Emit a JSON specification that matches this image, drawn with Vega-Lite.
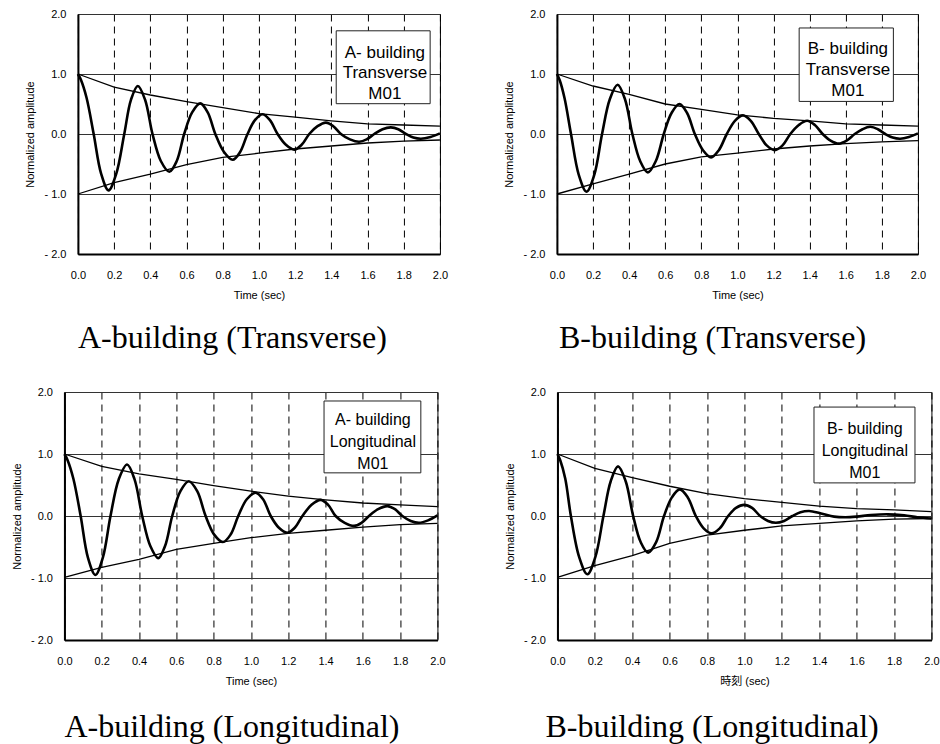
{
"$schema": "https://vega.github.io/schema/vega-lite/v6.json",
"padding": {"left": 10, "top": 7, "right": 0, "bottom": 0},
"datasets": {
"curves": [
{"p":"AT","s":"o","t":0,"v":1.0},{"p":"AT","s":"o","t":0.017,"v":0.9},{"p":"AT","s":"o","t":0.048,"v":0.6},{"p":"AT","s":"o","t":0.087,"v":0.0},{"p":"AT","s":"o","t":0.128,"v":-0.66},{"p":"AT","s":"o","t":0.169,"v":-0.94},{"p":"AT","s":"o","t":0.212,"v":-0.66},{"p":"AT","s":"o","t":0.256,"v":0.0},{"p":"AT","s":"o","t":0.293,"v":0.57},{"p":"AT","s":"o","t":0.331,"v":0.8},{"p":"AT","s":"o","t":0.371,"v":0.57},{"p":"AT","s":"o","t":0.412,"v":0.0},{"p":"AT","s":"o","t":0.458,"v":-0.45},{"p":"AT","s":"o","t":0.505,"v":-0.63},{"p":"AT","s":"o","t":0.546,"v":-0.45},{"p":"AT","s":"o","t":0.587,"v":0.0},{"p":"AT","s":"o","t":0.631,"v":0.36},{"p":"AT","s":"o","t":0.676,"v":0.51},{"p":"AT","s":"o","t":0.717,"v":0.36},{"p":"AT","s":"o","t":0.759,"v":0.0},{"p":"AT","s":"o","t":0.807,"v":-0.3},{"p":"AT","s":"o","t":0.855,"v":-0.43},{"p":"AT","s":"o","t":0.896,"v":-0.3},{"p":"AT","s":"o","t":0.937,"v":0.0},{"p":"AT","s":"o","t":0.978,"v":0.23},{"p":"AT","s":"o","t":1.02,"v":0.33},{"p":"AT","s":"o","t":1.061,"v":0.23},{"p":"AT","s":"o","t":1.103,"v":0.0},{"p":"AT","s":"o","t":1.149,"v":-0.18},{"p":"AT","s":"o","t":1.195,"v":-0.26},{"p":"AT","s":"o","t":1.236,"v":-0.18},{"p":"AT","s":"o","t":1.278,"v":0.0},{"p":"AT","s":"o","t":1.324,"v":0.13},{"p":"AT","s":"o","t":1.37,"v":0.19},{"p":"AT","s":"o","t":1.411,"v":0.13},{"p":"AT","s":"o","t":1.453,"v":0.0},{"p":"AT","s":"o","t":1.503,"v":-0.09},{"p":"AT","s":"o","t":1.554,"v":-0.13},{"p":"AT","s":"o","t":1.595,"v":-0.09},{"p":"AT","s":"o","t":1.637,"v":0.0},{"p":"AT","s":"o","t":1.683,"v":0.08},{"p":"AT","s":"o","t":1.729,"v":0.11},{"p":"AT","s":"o","t":1.77,"v":0.08},{"p":"AT","s":"o","t":1.812,"v":0.0},{"p":"AT","s":"o","t":1.853,"v":-0.06},{"p":"AT","s":"o","t":1.895,"v":-0.08},{"p":"AT","s":"o","t":1.948,"v":-0.05},{"p":"AT","s":"o","t":2.0,"v":0.01},
{"p":"AT","s":"u","t":0,"v":1.0},{"p":"AT","s":"u","t":0.2,"v":0.78},{"p":"AT","s":"u","t":0.4,"v":0.65},{"p":"AT","s":"u","t":0.6,"v":0.54},{"p":"AT","s":"u","t":0.8,"v":0.44},{"p":"AT","s":"u","t":1.0,"v":0.34},{"p":"AT","s":"u","t":1.2,"v":0.28},{"p":"AT","s":"u","t":1.4,"v":0.22},{"p":"AT","s":"u","t":1.6,"v":0.17},{"p":"AT","s":"u","t":1.8,"v":0.15},{"p":"AT","s":"u","t":2.0,"v":0.13},
{"p":"AT","s":"l","t":0,"v":-1.0},{"p":"AT","s":"l","t":0.2,"v":-0.81},{"p":"AT","s":"l","t":0.4,"v":-0.67},{"p":"AT","s":"l","t":0.6,"v":-0.51},{"p":"AT","s":"l","t":0.8,"v":-0.39},{"p":"AT","s":"l","t":1.0,"v":-0.32},{"p":"AT","s":"l","t":1.2,"v":-0.25},{"p":"AT","s":"l","t":1.4,"v":-0.2},{"p":"AT","s":"l","t":1.6,"v":-0.15},{"p":"AT","s":"l","t":1.8,"v":-0.12},{"p":"AT","s":"l","t":2.0,"v":-0.1},
{"p":"BT","s":"o","t":0,"v":1.0},{"p":"BT","s":"o","t":0.015,"v":0.9},{"p":"BT","s":"o","t":0.042,"v":0.6},{"p":"BT","s":"o","t":0.078,"v":0.0},{"p":"BT","s":"o","t":0.121,"v":-0.68},{"p":"BT","s":"o","t":0.164,"v":-0.96},{"p":"BT","s":"o","t":0.207,"v":-0.68},{"p":"BT","s":"o","t":0.25,"v":0.0},{"p":"BT","s":"o","t":0.293,"v":0.58},{"p":"BT","s":"o","t":0.336,"v":0.82},{"p":"BT","s":"o","t":0.377,"v":0.58},{"p":"BT","s":"o","t":0.418,"v":0.0},{"p":"BT","s":"o","t":0.461,"v":-0.45},{"p":"BT","s":"o","t":0.504,"v":-0.64},{"p":"BT","s":"o","t":0.548,"v":-0.45},{"p":"BT","s":"o","t":0.592,"v":0.0},{"p":"BT","s":"o","t":0.635,"v":0.35},{"p":"BT","s":"o","t":0.679,"v":0.5},{"p":"BT","s":"o","t":0.721,"v":0.35},{"p":"BT","s":"o","t":0.764,"v":0.0},{"p":"BT","s":"o","t":0.809,"v":-0.27},{"p":"BT","s":"o","t":0.854,"v":-0.39},{"p":"BT","s":"o","t":0.897,"v":-0.27},{"p":"BT","s":"o","t":0.941,"v":0.0},{"p":"BT","s":"o","t":0.986,"v":0.22},{"p":"BT","s":"o","t":1.031,"v":0.31},{"p":"BT","s":"o","t":1.074,"v":0.22},{"p":"BT","s":"o","t":1.118,"v":0.0},{"p":"BT","s":"o","t":1.162,"v":-0.19},{"p":"BT","s":"o","t":1.207,"v":-0.27},{"p":"BT","s":"o","t":1.25,"v":-0.19},{"p":"BT","s":"o","t":1.293,"v":0.0},{"p":"BT","s":"o","t":1.34,"v":0.15},{"p":"BT","s":"o","t":1.386,"v":0.22},{"p":"BT","s":"o","t":1.429,"v":0.15},{"p":"BT","s":"o","t":1.472,"v":0.0},{"p":"BT","s":"o","t":1.516,"v":-0.11},{"p":"BT","s":"o","t":1.561,"v":-0.16},{"p":"BT","s":"o","t":1.605,"v":-0.11},{"p":"BT","s":"o","t":1.65,"v":0.0},{"p":"BT","s":"o","t":1.693,"v":0.08},{"p":"BT","s":"o","t":1.736,"v":0.12},{"p":"BT","s":"o","t":1.778,"v":0.08},{"p":"BT","s":"o","t":1.819,"v":0.0},{"p":"BT","s":"o","t":1.86,"v":-0.06},{"p":"BT","s":"o","t":1.902,"v":-0.08},{"p":"BT","s":"o","t":1.95,"v":-0.05},{"p":"BT","s":"o","t":2.0,"v":0.01},
{"p":"BT","s":"u","t":0,"v":1.0},{"p":"BT","s":"u","t":0.2,"v":0.8},{"p":"BT","s":"u","t":0.4,"v":0.66},{"p":"BT","s":"u","t":0.6,"v":0.5},{"p":"BT","s":"u","t":0.8,"v":0.41},{"p":"BT","s":"u","t":1.0,"v":0.32},{"p":"BT","s":"u","t":1.2,"v":0.26},{"p":"BT","s":"u","t":1.4,"v":0.22},{"p":"BT","s":"u","t":1.6,"v":0.17},{"p":"BT","s":"u","t":1.8,"v":0.15},{"p":"BT","s":"u","t":2.0,"v":0.13},
{"p":"BT","s":"l","t":0,"v":-1.0},{"p":"BT","s":"l","t":0.2,"v":-0.83},{"p":"BT","s":"l","t":0.4,"v":-0.67},{"p":"BT","s":"l","t":0.6,"v":-0.5},{"p":"BT","s":"l","t":0.8,"v":-0.38},{"p":"BT","s":"l","t":1.0,"v":-0.32},{"p":"BT","s":"l","t":1.2,"v":-0.25},{"p":"BT","s":"l","t":1.4,"v":-0.2},{"p":"BT","s":"l","t":1.6,"v":-0.16},{"p":"BT","s":"l","t":1.8,"v":-0.13},{"p":"BT","s":"l","t":2.0,"v":-0.11},
{"p":"AL","s":"o","t":0,"v":1.0},{"p":"AL","s":"o","t":0.017,"v":0.9},{"p":"AL","s":"o","t":0.048,"v":0.6},{"p":"AL","s":"o","t":0.087,"v":0.0},{"p":"AL","s":"o","t":0.126,"v":-0.67},{"p":"AL","s":"o","t":0.166,"v":-0.95},{"p":"AL","s":"o","t":0.206,"v":-0.67},{"p":"AL","s":"o","t":0.247,"v":0.0},{"p":"AL","s":"o","t":0.291,"v":0.59},{"p":"AL","s":"o","t":0.336,"v":0.83},{"p":"AL","s":"o","t":0.376,"v":0.59},{"p":"AL","s":"o","t":0.417,"v":0.0},{"p":"AL","s":"o","t":0.46,"v":-0.48},{"p":"AL","s":"o","t":0.503,"v":-0.68},{"p":"AL","s":"o","t":0.54,"v":-0.48},{"p":"AL","s":"o","t":0.578,"v":0.0},{"p":"AL","s":"o","t":0.622,"v":0.4},{"p":"AL","s":"o","t":0.667,"v":0.56},{"p":"AL","s":"o","t":0.712,"v":0.4},{"p":"AL","s":"o","t":0.757,"v":0.0},{"p":"AL","s":"o","t":0.803,"v":-0.3},{"p":"AL","s":"o","t":0.85,"v":-0.42},{"p":"AL","s":"o","t":0.891,"v":-0.3},{"p":"AL","s":"o","t":0.932,"v":0.0},{"p":"AL","s":"o","t":0.978,"v":0.27},{"p":"AL","s":"o","t":1.025,"v":0.375},{"p":"AL","s":"o","t":1.065,"v":0.27},{"p":"AL","s":"o","t":1.106,"v":0.0},{"p":"AL","s":"o","t":1.15,"v":-0.19},{"p":"AL","s":"o","t":1.195,"v":-0.27},{"p":"AL","s":"o","t":1.235,"v":-0.19},{"p":"AL","s":"o","t":1.276,"v":0.0},{"p":"AL","s":"o","t":1.325,"v":0.18},{"p":"AL","s":"o","t":1.374,"v":0.26},{"p":"AL","s":"o","t":1.414,"v":0.18},{"p":"AL","s":"o","t":1.454,"v":0.0},{"p":"AL","s":"o","t":1.503,"v":-0.11},{"p":"AL","s":"o","t":1.553,"v":-0.16},{"p":"AL","s":"o","t":1.593,"v":-0.11},{"p":"AL","s":"o","t":1.633,"v":0.0},{"p":"AL","s":"o","t":1.682,"v":0.11},{"p":"AL","s":"o","t":1.732,"v":0.16},{"p":"AL","s":"o","t":1.772,"v":0.11},{"p":"AL","s":"o","t":1.812,"v":0.0},{"p":"AL","s":"o","t":1.857,"v":-0.08},{"p":"AL","s":"o","t":1.902,"v":-0.11},{"p":"AL","s":"o","t":1.95,"v":-0.07},{"p":"AL","s":"o","t":2.0,"v":0.01},
{"p":"AL","s":"u","t":0,"v":1.0},{"p":"AL","s":"u","t":0.2,"v":0.8},{"p":"AL","s":"u","t":0.4,"v":0.68},{"p":"AL","s":"u","t":0.6,"v":0.59},{"p":"AL","s":"u","t":0.8,"v":0.49},{"p":"AL","s":"u","t":1.0,"v":0.4},{"p":"AL","s":"u","t":1.2,"v":0.32},{"p":"AL","s":"u","t":1.4,"v":0.26},{"p":"AL","s":"u","t":1.6,"v":0.21},{"p":"AL","s":"u","t":1.8,"v":0.18},{"p":"AL","s":"u","t":2.0,"v":0.15},
{"p":"AL","s":"l","t":0,"v":-0.99},{"p":"AL","s":"l","t":0.2,"v":-0.83},{"p":"AL","s":"l","t":0.4,"v":-0.7},{"p":"AL","s":"l","t":0.6,"v":-0.54},{"p":"AL","s":"l","t":0.8,"v":-0.44},{"p":"AL","s":"l","t":1.0,"v":-0.35},{"p":"AL","s":"l","t":1.2,"v":-0.28},{"p":"AL","s":"l","t":1.4,"v":-0.23},{"p":"AL","s":"l","t":1.6,"v":-0.18},{"p":"AL","s":"l","t":1.8,"v":-0.14},{"p":"AL","s":"l","t":2.0,"v":-0.12},
{"p":"BL","s":"o","t":0,"v":1.0},{"p":"BL","s":"o","t":0.015,"v":0.9},{"p":"BL","s":"o","t":0.042,"v":0.6},{"p":"BL","s":"o","t":0.072,"v":0.0},{"p":"BL","s":"o","t":0.116,"v":-0.66},{"p":"BL","s":"o","t":0.16,"v":-0.94},{"p":"BL","s":"o","t":0.203,"v":-0.66},{"p":"BL","s":"o","t":0.246,"v":0.0},{"p":"BL","s":"o","t":0.285,"v":0.56},{"p":"BL","s":"o","t":0.324,"v":0.8},{"p":"BL","s":"o","t":0.365,"v":0.56},{"p":"BL","s":"o","t":0.405,"v":0.0},{"p":"BL","s":"o","t":0.445,"v":-0.42},{"p":"BL","s":"o","t":0.485,"v":-0.59},{"p":"BL","s":"o","t":0.528,"v":-0.42},{"p":"BL","s":"o","t":0.57,"v":0.0},{"p":"BL","s":"o","t":0.612,"v":0.3},{"p":"BL","s":"o","t":0.654,"v":0.43},{"p":"BL","s":"o","t":0.697,"v":0.3},{"p":"BL","s":"o","t":0.74,"v":0.0},{"p":"BL","s":"o","t":0.782,"v":-0.2},{"p":"BL","s":"o","t":0.824,"v":-0.28},{"p":"BL","s":"o","t":0.868,"v":-0.2},{"p":"BL","s":"o","t":0.913,"v":0.0},{"p":"BL","s":"o","t":0.955,"v":0.13},{"p":"BL","s":"o","t":0.998,"v":0.18},{"p":"BL","s":"o","t":1.041,"v":0.13},{"p":"BL","s":"o","t":1.084,"v":0.0},{"p":"BL","s":"o","t":1.126,"v":-0.08},{"p":"BL","s":"o","t":1.168,"v":-0.11},{"p":"BL","s":"o","t":1.212,"v":-0.08},{"p":"BL","s":"o","t":1.257,"v":0.0},{"p":"BL","s":"o","t":1.3,"v":0.06},{"p":"BL","s":"o","t":1.346,"v":0.08},{"p":"BL","s":"o","t":1.41,"v":0.04},{"p":"BL","s":"o","t":1.48,"v":-0.01},{"p":"BL","s":"o","t":1.54,"v":-0.02},{"p":"BL","s":"o","t":1.6,"v":-0.01},{"p":"BL","s":"o","t":1.676,"v":0.015},{"p":"BL","s":"o","t":1.765,"v":0.027},{"p":"BL","s":"o","t":1.854,"v":0.01},{"p":"BL","s":"o","t":1.925,"v":-0.02},{"p":"BL","s":"o","t":2.0,"v":-0.04},
{"p":"BL","s":"u","t":0,"v":1.0},{"p":"BL","s":"u","t":0.2,"v":0.77},{"p":"BL","s":"u","t":0.4,"v":0.62},{"p":"BL","s":"u","t":0.6,"v":0.48},{"p":"BL","s":"u","t":0.8,"v":0.36},{"p":"BL","s":"u","t":1.0,"v":0.28},{"p":"BL","s":"u","t":1.2,"v":0.22},{"p":"BL","s":"u","t":1.4,"v":0.16},{"p":"BL","s":"u","t":1.6,"v":0.12},{"p":"BL","s":"u","t":1.8,"v":0.1},{"p":"BL","s":"u","t":2.0,"v":0.07},
{"p":"BL","s":"l","t":0,"v":-0.99},{"p":"BL","s":"l","t":0.2,"v":-0.8},{"p":"BL","s":"l","t":0.4,"v":-0.64},{"p":"BL","s":"l","t":0.6,"v":-0.44},{"p":"BL","s":"l","t":0.8,"v":-0.31},{"p":"BL","s":"l","t":1.0,"v":-0.23},{"p":"BL","s":"l","t":1.2,"v":-0.16},{"p":"BL","s":"l","t":1.4,"v":-0.12},{"p":"BL","s":"l","t":1.6,"v":-0.08},{"p":"BL","s":"l","t":1.8,"v":-0.05},{"p":"BL","s":"l","t":2.0,"v":-0.04}
],
"boxes": [
{"p":"AT","t":1.427,"t2":1.946,"v":1.72,"v2":0.505},
{"p":"BT","t":1.342,"t2":1.864,"v":1.767,"v2":0.543},
{"p":"AL","t":1.392,"t2":1.911,"v":1.855,"v2":0.696},
{"p":"BL","t":1.372,"t2":1.912,"v":1.757,"v2":0.534}
],
"labels": [
{"p":"AT","t":1.696,"v":1.355,"txt":["A- building","Transverse","M01"]},
{"p":"BT","t":1.612,"v":1.41,"txt":["B- building","Transverse","M01"]},
{"p":"AL","t":1.654,"v":1.544,"txt":["A- building","Longitudinal","M01"]},
{"p":"BL","t":1.644,"v":1.411,"txt":["B- building","Longitudinal","M01"]}
]
},
"spacing": 30,
"center": true,
"vconcat": [
{"spacing": 54, "hconcat": [
{"width": 362, "height": 240,
 "title": {"text": "A-building (Transverse)", "dx": 0, "offset": 23},
 "encoding": {"x": {"field": "t", "type": "quantitative", "scale": {"domain": [0, 2], "nice": false}, "axis": {"title": "Time  (sec)", "values": [0, 0.2, 0.4, 0.6, 0.8, 1, 1.2, 1.4, 1.6, 1.8, 2], "format": ".1f"}},
  "y": {"field": "v", "type": "quantitative", "scale": {"domain": [-2, 2], "nice": false}, "axis": {"title": "Normalized amplitude", "values": [-2, -1, 0, 1, 2], "labelExpr": "datum.value < 0 ? '- ' + format(abs(datum.value), '.1f') : format(datum.value, '.1f')"}}},
 "layer": [
  {"data": {"name": "curves"}, "transform": [{"filter": "datum.p == 'AT' && datum.s != 'o'"}], "mark": {"type": "line", "color": "black", "strokeWidth": 1.3}, "encoding": {"detail": {"field": "s"}}},
  {"data": {"name": "curves"}, "transform": [{"filter": "datum.p == 'AT' && datum.s == 'o'"}], "mark": {"type": "line", "color": "black", "strokeWidth": 2.6, "interpolate": "catmull-rom"}},
  {"data": {"name": "boxes"}, "transform": [{"filter": "datum.p == 'AT'"}], "mark": {"type": "rect", "fill": "white", "stroke": "#222", "strokeWidth": 1}, "encoding": {"x2": {"field": "t2"}, "y2": {"field": "v2"}}},
  {"data": {"name": "labels"}, "transform": [{"filter": "datum.p == 'AT'"}], "mark": {"type": "text", "font": "Liberation Sans", "fontSize": 17, "lineHeight": 20.5, "baseline": "middle", "align": "center", "color": "black"}, "encoding": {"text": {"field": "txt"}}}
 ]},
{"width": 361, "height": 240,
 "title": {"text": "B-building (Transverse)", "dx": 2, "offset": 23},
 "encoding": {"x": {"field": "t", "type": "quantitative", "scale": {"domain": [0, 2], "nice": false}, "axis": {"title": "Time  (sec)", "values": [0, 0.2, 0.4, 0.6, 0.8, 1, 1.2, 1.4, 1.6, 1.8, 2], "format": ".1f"}},
  "y": {"field": "v", "type": "quantitative", "scale": {"domain": [-2, 2], "nice": false}, "axis": {"title": "Normalized amplitude", "values": [-2, -1, 0, 1, 2], "labelExpr": "datum.value < 0 ? '- ' + format(abs(datum.value), '.1f') : format(datum.value, '.1f')"}}},
 "layer": [
  {"data": {"name": "curves"}, "transform": [{"filter": "datum.p == 'BT' && datum.s != 'o'"}], "mark": {"type": "line", "color": "black", "strokeWidth": 1.3}, "encoding": {"detail": {"field": "s"}}},
  {"data": {"name": "curves"}, "transform": [{"filter": "datum.p == 'BT' && datum.s == 'o'"}], "mark": {"type": "line", "color": "black", "strokeWidth": 2.6, "interpolate": "catmull-rom"}},
  {"data": {"name": "boxes"}, "transform": [{"filter": "datum.p == 'BT'"}], "mark": {"type": "rect", "fill": "white", "stroke": "#222", "strokeWidth": 1}, "encoding": {"x2": {"field": "t2"}, "y2": {"field": "v2"}}},
  {"data": {"name": "labels"}, "transform": [{"filter": "datum.p == 'BT'"}], "mark": {"type": "text", "font": "Liberation Sans", "fontSize": 17, "lineHeight": 21, "baseline": "middle", "align": "center", "color": "black"}, "encoding": {"text": {"field": "txt"}}}
 ]}
]},
{"spacing": 57, "hconcat": [
{"width": 373, "height": 248,
 "title": {"text": "A-building (Longitudinal)", "dx": 0, "offset": 26},
 "encoding": {"x": {"field": "t", "type": "quantitative", "scale": {"domain": [0, 2], "nice": false}, "axis": {"title": "Time  (sec)", "values": [0, 0.2, 0.4, 0.6, 0.8, 1, 1.2, 1.4, 1.6, 1.8, 2], "format": ".1f"}},
  "y": {"field": "v", "type": "quantitative", "scale": {"domain": [-2, 2], "nice": false}, "axis": {"title": "Normalized amplitude", "values": [-2, -1, 0, 1, 2], "labelExpr": "datum.value < 0 ? '- ' + format(abs(datum.value), '.1f') : format(datum.value, '.1f')"}}},
 "layer": [
  {"data": {"name": "curves"}, "transform": [{"filter": "datum.p == 'AL' && datum.s != 'o'"}], "mark": {"type": "line", "color": "black", "strokeWidth": 1.3}, "encoding": {"detail": {"field": "s"}}},
  {"data": {"name": "curves"}, "transform": [{"filter": "datum.p == 'AL' && datum.s == 'o'"}], "mark": {"type": "line", "color": "black", "strokeWidth": 2.6, "interpolate": "catmull-rom"}},
  {"data": {"name": "boxes"}, "transform": [{"filter": "datum.p == 'AL'"}], "mark": {"type": "rect", "fill": "white", "stroke": "#222", "strokeWidth": 1}, "encoding": {"x2": {"field": "t2"}, "y2": {"field": "v2"}}},
  {"data": {"name": "labels"}, "transform": [{"filter": "datum.p == 'AL'"}], "mark": {"type": "text", "font": "Liberation Sans", "fontSize": 16, "lineHeight": 22, "baseline": "middle", "align": "center", "color": "black"}, "encoding": {"text": {"field": "txt"}}}
 ]},
{"width": 374, "height": 248,
 "title": {"text": "B-building (Longitudinal)", "dx": -12, "offset": 26},
 "encoding": {"x": {"field": "t", "type": "quantitative", "scale": {"domain": [0, 2], "nice": false}, "axis": {"title": "時刻  (sec)", "values": [0, 0.2, 0.4, 0.6, 0.8, 1, 1.2, 1.4, 1.6, 1.8, 2], "format": ".1f"}},
  "y": {"field": "v", "type": "quantitative", "scale": {"domain": [-2, 2], "nice": false}, "axis": {"title": "Normalized amplitude", "values": [-2, -1, 0, 1, 2], "labelExpr": "datum.value < 0 ? '- ' + format(abs(datum.value), '.1f') : format(datum.value, '.1f')"}}},
 "layer": [
  {"data": {"name": "curves"}, "transform": [{"filter": "datum.p == 'BL' && datum.s != 'o'"}], "mark": {"type": "line", "color": "black", "strokeWidth": 1.3}, "encoding": {"detail": {"field": "s"}}},
  {"data": {"name": "curves"}, "transform": [{"filter": "datum.p == 'BL' && datum.s == 'o'"}], "mark": {"type": "line", "color": "black", "strokeWidth": 2.6, "interpolate": "catmull-rom"}},
  {"data": {"name": "boxes"}, "transform": [{"filter": "datum.p == 'BL'"}], "mark": {"type": "rect", "fill": "white", "stroke": "#222", "strokeWidth": 1}, "encoding": {"x2": {"field": "t2"}, "y2": {"field": "v2"}}},
  {"data": {"name": "labels"}, "transform": [{"filter": "datum.p == 'BL'"}], "mark": {"type": "text", "font": "Liberation Sans", "fontSize": 16, "lineHeight": 22, "baseline": "middle", "align": "center", "color": "black"}, "encoding": {"text": {"field": "txt"}}}
 ]}
]}
],
"config": {
 "background": "white",
 "view": {"stroke": "black", "strokeWidth": 1},
 "title": {"orient": "bottom", "anchor": "start", "frame": "group", "font": "Liberation Serif", "fontSize": 32, "fontWeight": "normal", "color": "black"},
 "axis": {"labelFont": "Liberation Sans", "labelFontSize": 11, "labelColor": "black", "titleFont": "Liberation Sans, Noto Sans CJK JP", "titleFontSize": 11, "titleFontWeight": "normal", "titleColor": "black", "ticks": false, "domainColor": "black", "domainWidth": 2, "grid": true, "labelFlush": false, "labelOverlap": false},
 "axisX": {"gridDash": [7, 5], "gridColor": "black", "gridWidth": 1, "gridOpacity": 1, "labelPadding": 15, "titlePadding": 9},
 "axisY": {"gridColor": "#333", "gridWidth": 1, "gridOpacity": 1, "labelPadding": 12, "titlePadding": 8}
}
}
